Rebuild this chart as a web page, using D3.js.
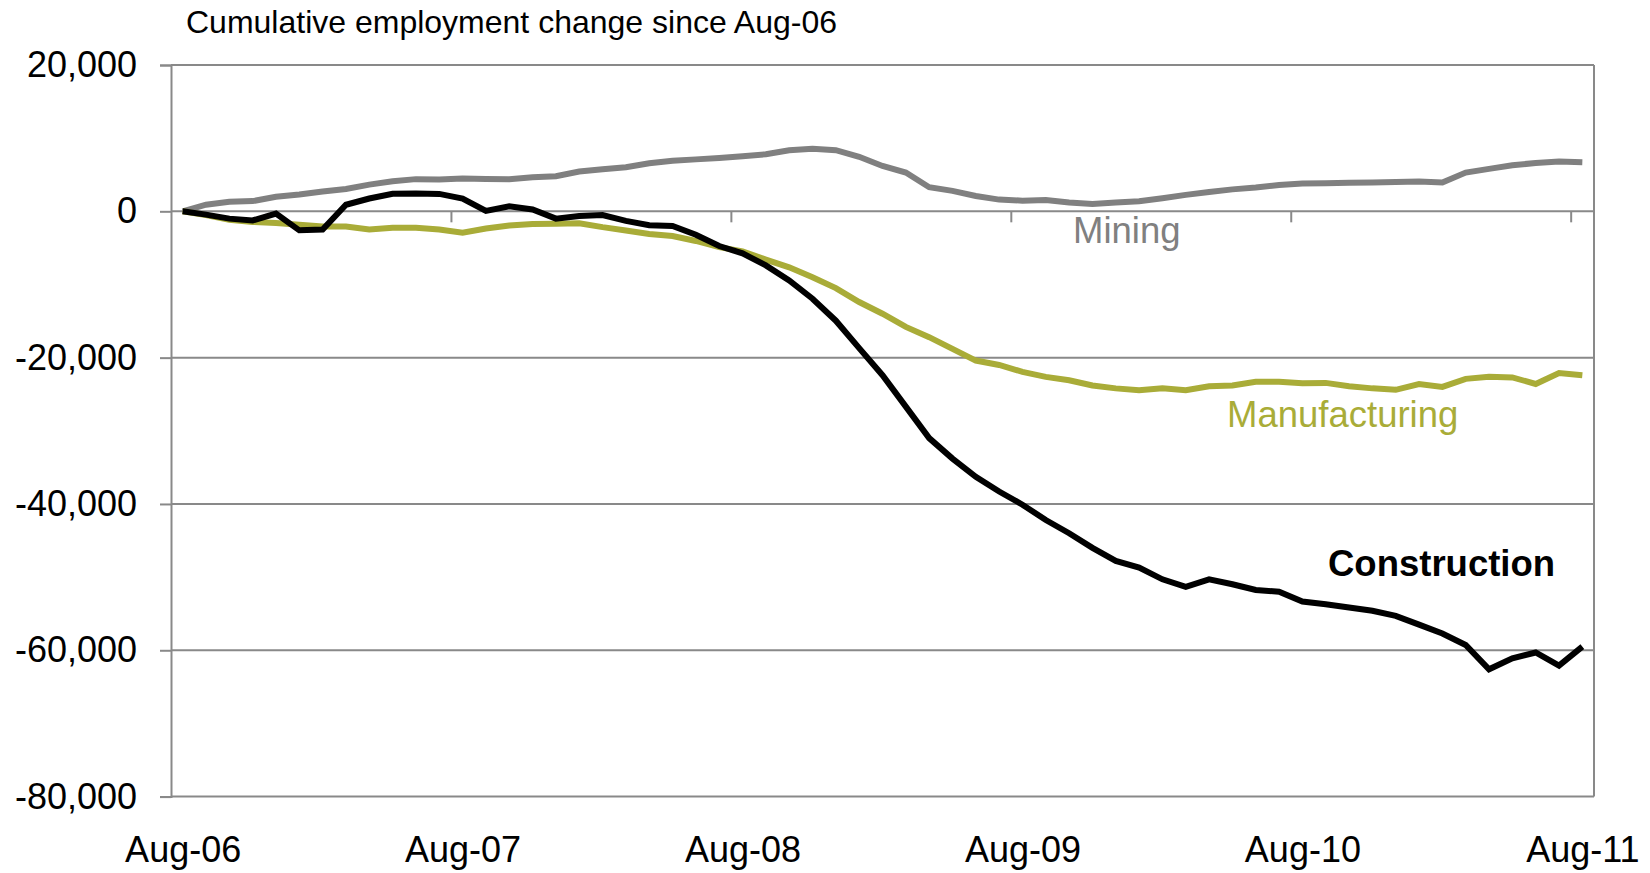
<!DOCTYPE html>
<html>
<head>
<meta charset="utf-8">
<script src="https://cdn.jsdelivr.net/npm/d3@7"></script>
<style>
  body { margin: 0; background: #fff; }
  svg { display: block; font-family: "Liberation Sans", Arial, sans-serif; }
</style>
</head>
<body>
<svg id="chart" width="1650" height="873"></svg>
<script>
// months Aug-06 .. Aug-11 (61 points), cumulative change since Aug-06
const months = d3.range(61)
const tickLabels = ['Aug-06', 'Aug-07', 'Aug-08', 'Aug-09', 'Aug-10', 'Aug-11']
const yTicks = [20000, 0, -20000, -40000, -60000, -80000]

const mining = [
  0, 900, 1300, 1400, 2000, 2300, 2700, 3050, 3650, 4100,
  4400, 4350, 4470, 4420, 4380, 4650, 4790, 5430, 5750, 6020,
  6570, 6900, 7100, 7300, 7520, 7800, 8350, 8550, 8350, 7450,
  6200, 5300, 3300, 2800, 2100, 1600, 1460, 1550, 1200, 1000,
  1200, 1380, 1780, 2250, 2650, 3000, 3250, 3600, 3800, 3850,
  3900, 3950, 4000, 4060, 3950, 5300, 5800, 6300, 6600, 6800,
  6700
]

const manufacturing = [
  0, -520, -1150, -1450, -1600, -1820, -2070, -2070, -2480, -2250,
  -2250, -2480, -2920, -2350, -1950, -1730, -1700, -1620, -2160, -2620,
  -3100, -3370, -4050, -4900, -5480, -6600, -7650, -9000, -10500, -12400,
  -14000, -15800, -17200, -18800, -20400, -21000, -21950, -22630, -23100, -23800,
  -24200, -24450, -24200, -24450, -23900, -23800, -23300, -23300, -23500, -23450,
  -23900, -24200, -24400, -23600, -24000, -22900, -22600, -22700, -23600, -22100,
  -22400
]

const construction = [
  0, -450, -1000, -1250, -300, -2600, -2500, 900, 1750, 2400,
  2450, 2380, 1750, 50, 700, 250, -1000, -650, -500, -1300,
  -1900, -2000, -3200, -4750, -5750, -7400, -9450, -11950, -14950, -18700,
  -22400, -26700, -31000, -33800, -36300, -38300, -40100, -42200, -44000, -46000,
  -47780, -48700, -50300, -51340, -50300, -50970, -51750, -52000, -53340, -53700,
  -54160, -54600, -55300, -56500, -57700, -59270, -62600, -61100, -60300, -62100,
  -59500
]

const series = [
  { name: 'Mining', values: mining, color: '#808080' },
  { name: 'Manufacturing', values: manufacturing, color: '#A9AC38' },
  { name: 'Construction', values: construction, color: '#000000' }
]

const svg = d3.select('#chart')
const plotLeft = 171, plotRight = 1594, plotTop = 65, plotBottom = 796.6

const x = d3.scaleLinear().domain([-0.5, 60.5]).range([plotLeft, plotRight])
const y = d3.scaleLinear().domain([-80000, 20000]).range([plotBottom, plotTop])

const gridColor = '#898989'
const fmt = d3.format(',')

// horizontal gridlines
svg.append('g')
  .selectAll('line')
  .data(yTicks)
  .enter()
  .append('line')
  .attr('x1', plotLeft)
  .attr('x2', plotRight)
  .attr('y1', d => y(d))
  .attr('y2', d => y(d))
  .attr('stroke', gridColor)
  .attr('stroke-width', 2)

// right border
svg.append('line')
  .attr('x1', plotRight).attr('x2', plotRight)
  .attr('y1', y(20000)).attr('y2', y(-80000))
  .attr('stroke', gridColor)
  .attr('stroke-width', 2)

// y axis (plain hyphen for negatives, like the original)
const yAxis = svg.append('g')
  .attr('transform', `translate(${plotLeft},0)`)
  .call(d3.axisLeft(y).tickValues(yTicks).tickSize(11).tickPadding(23)
    .tickFormat(d => fmt(d).replace('\u2212', '-')))
yAxis.select('.domain').attr('stroke', gridColor).attr('stroke-width', 2)
yAxis.selectAll('.tick line').attr('stroke', gridColor).attr('stroke-width', 2)
yAxis.selectAll('text')
  .attr('font-size', 36)
  .attr('fill', '#000')
  .attr('font-family', '"Liberation Sans", Arial, sans-serif')

// x tick marks on the zero line
const xTickAxis = svg.append('g')
  .attr('transform', `translate(0,${y(0)})`)
  .call(d3.axisBottom(x).tickValues([11.5, 23.5, 35.5, 47.5, 59.5]).tickSize(11).tickFormat(''))
xTickAxis.select('.domain').remove()
xTickAxis.selectAll('.tick line').attr('stroke', gridColor).attr('stroke-width', 2)

// x labels at bottom
const xLabelAxis = svg.append('g')
  .attr('transform', `translate(0,${plotBottom})`)
  .call(d3.axisBottom(x).tickValues([0, 12, 24, 36, 48, 60]).tickSize(0).tickPadding(40)
    .tickFormat((d, i) => tickLabels[i]))
xLabelAxis.select('.domain').remove()
xLabelAxis.selectAll('text')
  .attr('font-size', 36)
  .attr('fill', '#000')
  .attr('font-family', '"Liberation Sans", Arial, sans-serif')

// lines
const line = d3.line()
  .x((d, i) => x(months[i]))
  .y(d => y(d))

svg.append('g')
  .selectAll('path')
  .data(series)
  .enter()
  .append('path')
  .attr('d', d => line(d.values))
  .attr('fill', 'none')
  .attr('stroke', d => d.color)
  .attr('stroke-width', 6)
  .attr('stroke-linejoin', 'miter')

// title
svg.append('text')
  .attr('x', 186)
  .attr('y', 33)
  .attr('font-size', 32)
  .attr('fill', '#000')
  .text('Cumulative employment change since Aug-06')

// series labels
svg.append('text')
  .attr('x', 1073).attr('y', 243)
  .attr('font-size', 36.5)
  .attr('fill', '#808080')
  .text('Mining')

svg.append('text')
  .attr('x', 1227).attr('y', 427)
  .attr('font-size', 36.5)
  .attr('fill', '#A9AC38')
  .text('Manufacturing')

svg.append('text')
  .attr('x', 1328).attr('y', 576)
  .attr('font-size', 36.5)
  .attr('font-weight', 'bold')
  .attr('fill', '#000')
  .text('Construction')
</script>
</body>
</html>
